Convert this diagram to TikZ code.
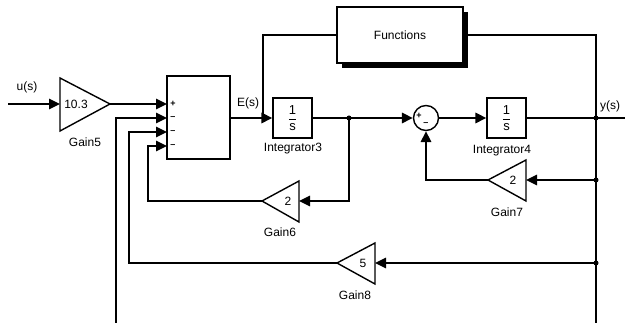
\documentclass[tikz,border=0pt]{standalone}
\usepackage{fontspec}
\setmainfont{Liberation Sans}
\usetikzlibrary{arrows.meta,calc,shadows}
\begin{document}
\begin{tikzpicture}[x=1pt,y=-1pt,line width=1.7pt,
  arr/.style={-{Triangle[length=11pt,width=10.5pt]}},
  lbl/.style={font=\fontsize{12}{14}\selectfont,inner sep=0pt},
  sgn/.style={font=\fontsize{9}{9}\selectfont\bfseries,inner sep=0pt},
  blk/.style={draw,line width=1.4pt,fill=white,inner sep=0pt},
  tri/.style={draw,line width=1.4pt,fill=white},
  jdot/.style={circle,fill,inner sep=0pt,minimum size=5pt}]
\useasboundingbox (0,0) rectangle (625,323);

% blocks
\node[blk,minimum width=63pt,minimum height=83pt] (sumb) at (198.5,117.5) {};
\node[blk,minimum width=39pt,minimum height=40pt,font=\fontsize{13}{15}\selectfont] (int3) at (292.5,118) {$\displaystyle\frac{\mbox{1}}{\mbox{s}}$};
\node[blk,minimum width=39pt,minimum height=40pt,font=\fontsize{13}{15}\selectfont] (int4) at (506.5,118) {$\displaystyle\frac{\mbox{1}}{\mbox{s}}$};
\node[blk,minimum width=126pt,minimum height=56pt,font=\fontsize{12}{14}\selectfont,
  drop shadow={shadow xshift=5pt,shadow yshift=-5pt,opacity=1,fill=black}] (fn) at (400,35) {Functions};
\node[draw,circle,minimum size=25pt,inner sep=0pt,line width=1.4pt] (cs) at (426,118) {};
\node[sgn] (csp) at (419,115.5) {+};
\node[sgn] (csm) at (426,124.5) {\textendash};

% sum block signs
\node[sgn] (sp1) at (173,104) {+};
\node[sgn] (sm2) at (173,118) {\textendash};
\node[sgn] (sm3) at (173,132) {\textendash};
\node[sgn] (sm4) at (173,146) {\textendash};
\coordinate (s1) at (167,104);
\coordinate (s2) at (167,118);
\coordinate (s3) at (167,132);
\coordinate (s4) at (167,146);

% gains
\draw[tri] (60,78) -- (110,104) -- (60,131) -- cycle;
\coordinate (g5in) at (60,104); \coordinate (g5out) at (110,104);
\node[lbl] (g5) at (76,104) {10.3};
\node[lbl] (g5l) at (85,142) {Gain5};

\draw[tri] (262,201) -- (299,181) -- (299,222) -- cycle;
\coordinate (g6in) at (299,201); \coordinate (g6out) at (262,201);
\node[lbl] (g6) at (288,201) {2};
\node[lbl] (g6l) at (280,232) {Gain6};

\draw[tri] (488,180) -- (526,160) -- (526,201) -- cycle;
\coordinate (g7in) at (526,180); \coordinate (g7out) at (488,180);
\node[lbl] (g7) at (513,180) {2};
\node[lbl] (g7l) at (507,212) {Gain7};

\draw[tri] (337,263) -- (375,243) -- (375,284) -- cycle;
\coordinate (g8in) at (375,263); \coordinate (g8out) at (337,263);
\node[lbl] (g8) at (363,263) {5};
\node[lbl] (g8l) at (355,295) {Gain8};

% labels
\node[lbl] (ulab) at (27,87) {u(s)};
\node[lbl] (elab) at (248,103) {E(s)};
\node[lbl] (ylab) at (610,106) {y(s)};
\node[lbl] (i3l) at (293,149) {Integrator3};
\node[lbl] (i4l) at (502,151) {Integrator4};

% coordinates
\coordinate (uin) at (8,104);
\coordinate (b1) at (116,323);
\coordinate (b2) at (596,323);
\coordinate (yout) at (625,118);
\coordinate (j1) at (349,118);
\coordinate (ej) at (263,118);
\coordinate (y1) at (596,118);
\coordinate (y2) at (596,180);
\coordinate (y3) at (596,263);

% connectors
\draw[arr] (uin) -- (g5in);
\draw[arr] (g5out) -- (s1);
\draw[arr] (b1) |- (s2);
\draw[arr] (g8out) -| (129,132) -- (s3);
\draw[arr] (g6out) -| (148,146) -- (s4);
\draw[arr] (sumb.east |- s2) -- (int3.west);
\draw (fn.west) -| (ej);
\draw[arr] (int3.east) -- (cs.west);
\draw[arr] (j1) |- (g6in);
\draw[arr] (cs.east) -- (int4.west);
\draw (int4.east) -- (yout);
\draw (fn.east) -| (b2);
\draw[arr] (y2) -- (g7in);
\draw[arr] (g7out) -| (cs.south);
\draw[arr] (y3) -- (g8in);
\node[jdot] (d1) at (j1) {};
\node[jdot] (d2) at (y1) {};
\node[jdot] (d3) at (y2) {};
\node[jdot] (d4) at (y3) {};
\end{tikzpicture}
\end{document}
